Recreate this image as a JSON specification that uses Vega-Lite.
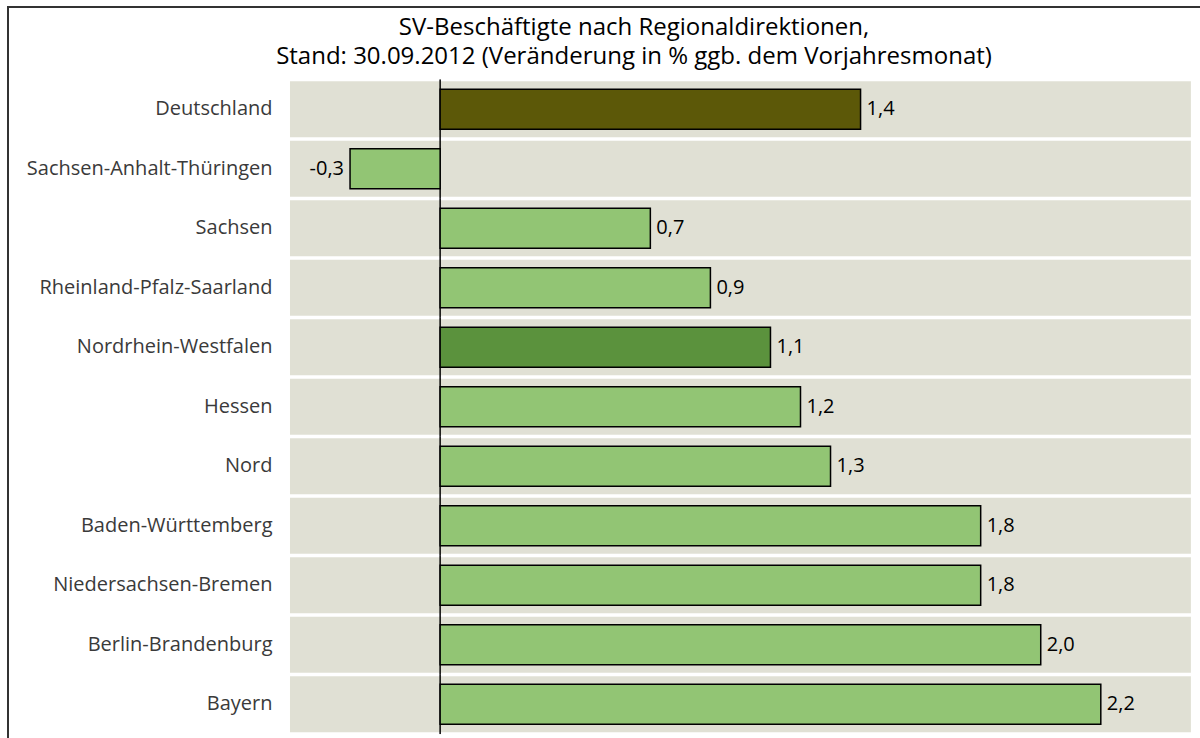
{
  "$schema": "https://vega.github.io/schema/vega-lite/v6.json",
  "width": 1194,
  "height": 734,
  "autosize": {"type": "none"},
  "padding": {"left": 8, "top": 7, "right": -2, "bottom": -3},
  "background": "white",
  "config": {
    "font": "Open Sans",
    "view": {"stroke": "#333333", "strokeWidth": 2},
    "locale": {"number": {"decimal": ",", "thousands": ".", "grouping": [3], "currency": ["", " €"], "minus": "-"}},
    "axis": {"grid": false}
  },
  "title": {
    "text": ["SV-Beschäftigte nach Regionaldirektionen,", "Stand: 30.09.2012 (Veränderung in % ggb. dem Vorjahresmonat)"],
    "fontSize": 24,
    "fontWeight": "normal",
    "color": "#000000",
    "anchor": "middle",
    "dx": 29,
    "lineHeight": 29,
    "offset": -62
  },
  "data": {
    "values": [
      {"region": "Deutschland", "value": 1.4, "group": "Bund"},
      {"region": "Sachsen-Anhalt-Thüringen", "value": -0.3, "group": "RD"},
      {"region": "Sachsen", "value": 0.7, "group": "RD"},
      {"region": "Rheinland-Pfalz-Saarland", "value": 0.9, "group": "RD"},
      {"region": "Nordrhein-Westfalen", "value": 1.1, "group": "NRW"},
      {"region": "Hessen", "value": 1.2, "group": "RD"},
      {"region": "Nord", "value": 1.3, "group": "RD"},
      {"region": "Baden-Württemberg", "value": 1.8, "group": "RD"},
      {"region": "Niedersachsen-Bremen", "value": 1.8, "group": "RD"},
      {"region": "Berlin-Brandenburg", "value": 2.0, "group": "RD"},
      {"region": "Bayern", "value": 2.2, "group": "RD"}
    ]
  },
  "layer": [
    {
      "mark": {"type": "bar", "height": {"band": 0.94}, "color": "#E0E0D4"},
      "encoding": {
        "x": {"datum": -0.5, "type": "quantitative", "scale": {"domain": [-1.439, 2.537], "nice": false, "zero": false}, "axis": null},
        "x2": {"datum": 2.5},
        "y": {
          "field": "region", "type": "nominal", "sort": null,
          "scale": {"paddingInner": 0, "paddingOuter": 0.668, "align": 0.9126},
          "axis": {"title": null, "ticks": false, "domain": false, "labelPadding": 18, "offset": -282, "labelFontSize": 20, "labelColor": "#3a3a3a", "labelFont": "Open Sans", "labelLimit": 400}
        }
      }
    },
    {
      "mark": {"type": "bar", "height": {"band": 1}, "fill": null, "stroke": "#000000", "strokeWidth": 1},
      "encoding": {
        "x": {"datum": 0, "type": "quantitative"},
        "x2": {"datum": 0},
        "y": {"field": "region", "type": "nominal", "sort": null}
      }
    },
    {
      "mark": {"type": "bar", "height": {"band": 0.672}, "stroke": "#000000", "strokeWidth": 1.5},
      "encoding": {
        "x": {"field": "value", "type": "quantitative"},
        "x2": {"datum": 0},
        "y": {"field": "region", "type": "nominal", "sort": null},
        "color": {"field": "group", "type": "nominal", "scale": {"domain": ["Bund", "NRW", "RD"], "range": ["#5C5808", "#5B923D", "#92C574"]}, "legend": null}
      }
    },
    {
      "transform": [{"filter": "datum.value >= 0"}],
      "mark": {"type": "text", "align": "left", "dx": 6, "fontSize": 20, "color": "#000000"},
      "encoding": {
        "x": {"field": "value", "type": "quantitative"},
        "y": {"field": "region", "type": "nominal", "sort": null},
        "text": {"field": "value", "type": "quantitative", "format": ".1f"}
      }
    },
    {
      "transform": [{"filter": "datum.value < 0"}],
      "mark": {"type": "text", "align": "right", "dx": -6, "fontSize": 20, "color": "#000000"},
      "encoding": {
        "x": {"field": "value", "type": "quantitative"},
        "y": {"field": "region", "type": "nominal", "sort": null},
        "text": {"field": "value", "type": "quantitative", "format": ".1f"}
      }
    }
  ]
}
